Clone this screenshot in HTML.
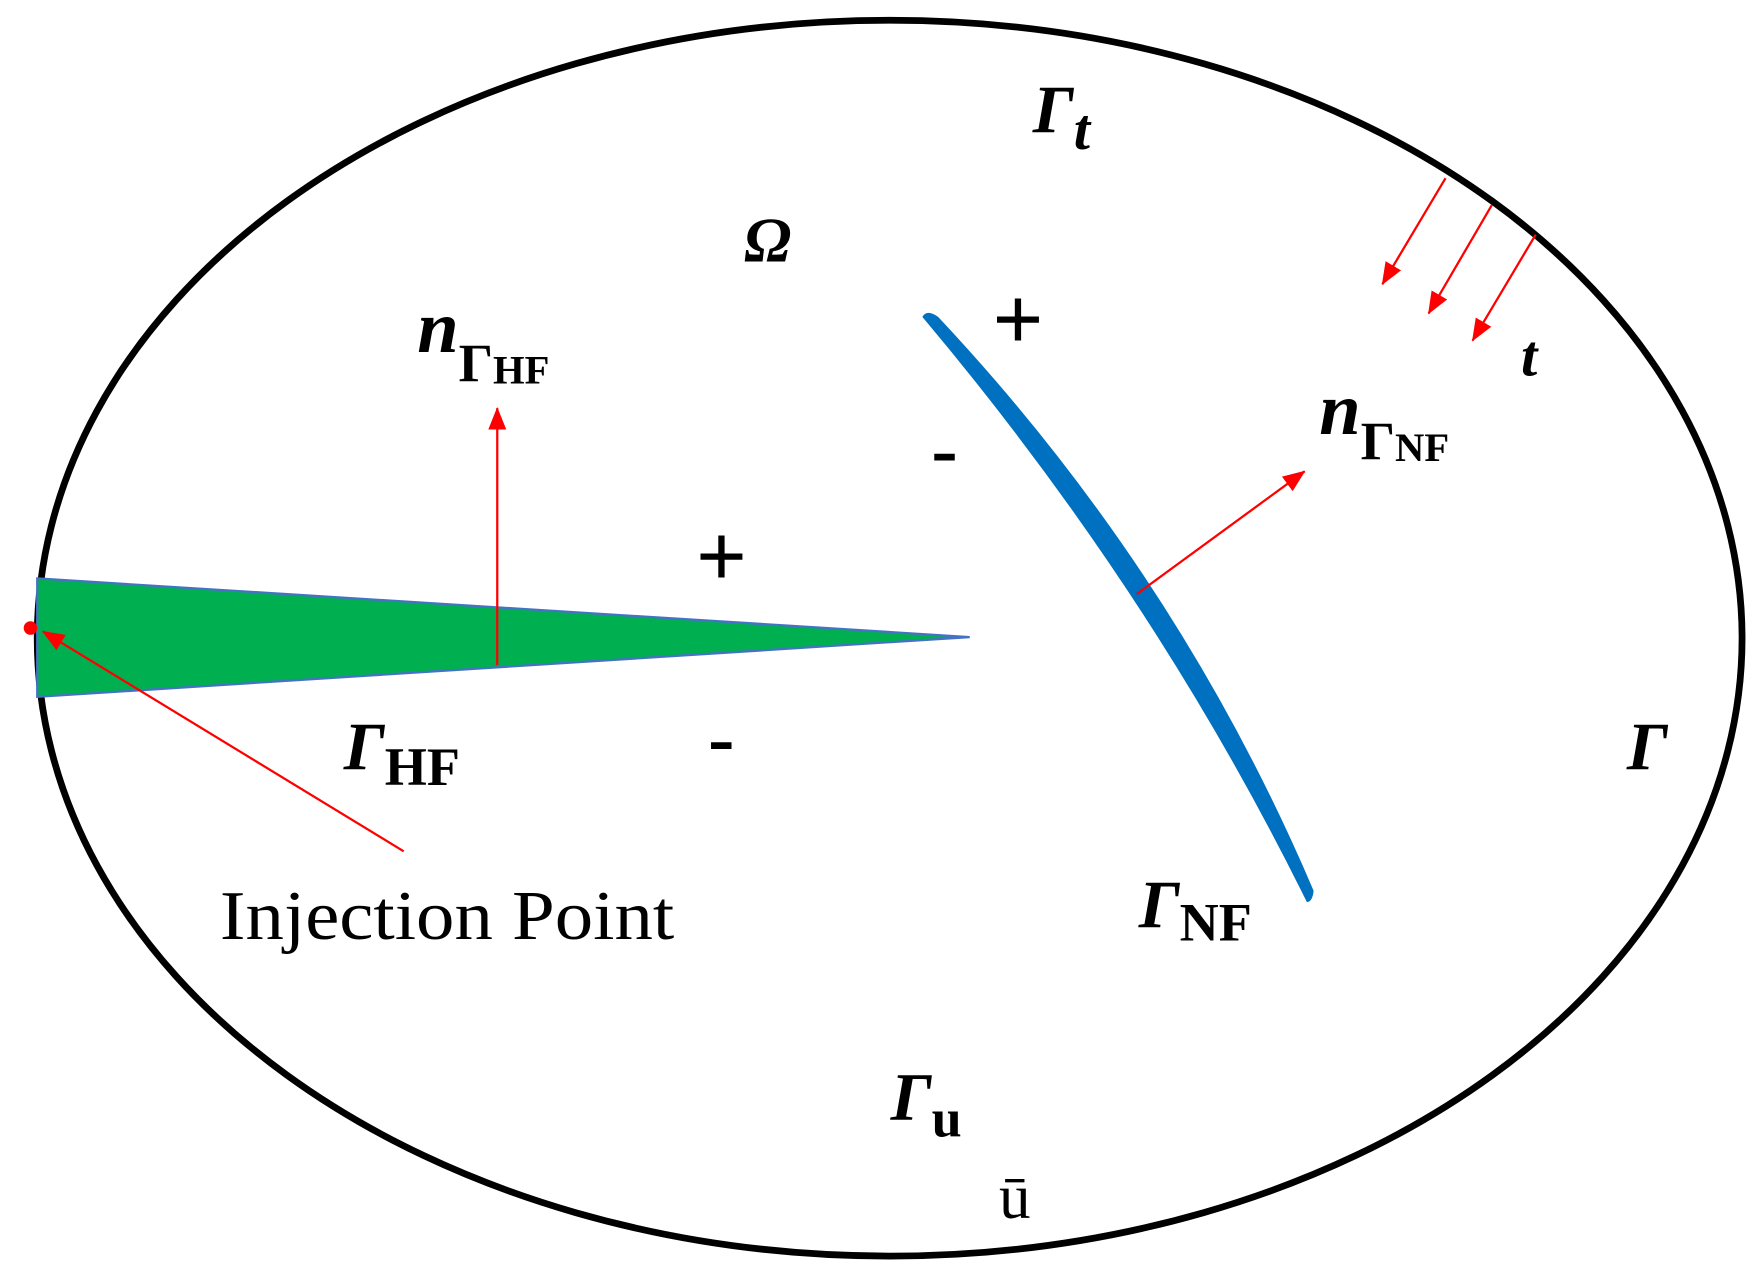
<!DOCTYPE html>
<html><head><meta charset="utf-8"><style>
html,body{margin:0;padding:0;background:#fff;}
svg{display:block;}
text{font-family:"Liberation Serif",serif;}
.b{font-weight:bold;}
.bi{font-weight:bold;font-style:italic;}
</style></head><body>
<svg width="1759" height="1273" viewBox="0 0 1560 1129" xmlns="http://www.w3.org/2000/svg">
<defs>
<marker id="ah2" markerWidth="20" markerHeight="16" refX="19" refY="8" orient="auto" markerUnits="userSpaceOnUse" viewBox="0 0 20 16">
<path d="M0,0 L20,8 L0,16 z" fill="#ff0000"/>
</marker>
</defs>
<rect width="1560" height="1129" fill="#fff"/>
<ellipse cx="789" cy="566" rx="756" ry="548" fill="none" stroke="#000" stroke-width="6"/>
<polygon points="33,513 860,565 33,618" fill="#00b050" stroke="#4472c4" stroke-width="2"/>
<circle cx="27" cy="557" r="6" fill="#ff0000"/>
<line x1="358" y1="755" x2="38" y2="560" stroke="#ff0000" stroke-width="2" marker-end="url(#ah2)"/>
<line x1="441" y1="590" x2="441" y2="362" stroke="#ff0000" stroke-width="2" marker-end="url(#ah2)"/>
<path d="M818,281 Q822,274 832,281 Q1045,508 1165,790 Q1164,800 1159,800 Q1024,526 818,281 Z" fill="#0070c0"/>
<line x1="1008" y1="527" x2="1157" y2="418" stroke="#ff0000" stroke-width="2" marker-end="url(#ah2)"/>
<line x1="1282" y1="158" x2="1226" y2="252" stroke="#ff0000" stroke-width="2" marker-end="url(#ah2)"/>
<line x1="1323" y1="182" x2="1267" y2="278" stroke="#ff0000" stroke-width="2" marker-end="url(#ah2)"/>
<line x1="1362" y1="208" x2="1306" y2="302" stroke="#ff0000" stroke-width="2" marker-end="url(#ah2)"/>
<text x="916" y="117" class="bi" font-size="60">Γ<tspan font-size="52" dy="15">t</tspan></text>
<text x="660" y="232" class="bi" font-size="56">Ω</text>
<text x="880" y="310" class="b" font-size="80" font-family="Liberation Sans">+</text>
<text x="826" y="422" class="b" font-size="70" font-family="Liberation Sans">-</text>
<text x="617" y="520" class="b" font-size="80" font-family="Liberation Sans">+</text>
<text x="628" y="678" class="b" font-size="70" font-family="Liberation Sans">-</text>
<text x="370" y="312" class="bi" font-size="66">n<tspan font-style="normal" font-size="48" dy="26">Γ</tspan><tspan font-style="normal" font-size="36" dy="2">HF</tspan></text>
<text x="1349" y="333" class="bi" font-size="52">t</text>
<text x="1170" y="385" class="bi" font-size="66">n<tspan font-style="normal" font-size="48" dy="22">Γ</tspan><tspan font-style="normal" font-size="36" dy="2">NF</tspan></text>
<text x="1443" y="682" class="bi" font-size="60">Γ</text>
<text x="305" y="682" class="bi" font-size="60">Γ<tspan font-style="normal" font-size="48" dy="14">HF</tspan></text>
<text x="195" y="833" font-size="62" textLength="403" lengthAdjust="spacingAndGlyphs">Injection Point</text>
<text x="1010" y="822" class="bi" font-size="60">Γ<tspan font-style="normal" font-size="48" dy="12">NF</tspan></text>
<text x="790" y="993" class="bi" font-size="60">Γ<tspan font-style="normal" font-size="48" dy="15">u</tspan></text>
<text x="886" y="1080" font-size="56">ū</text>
</svg>
</body></html>
